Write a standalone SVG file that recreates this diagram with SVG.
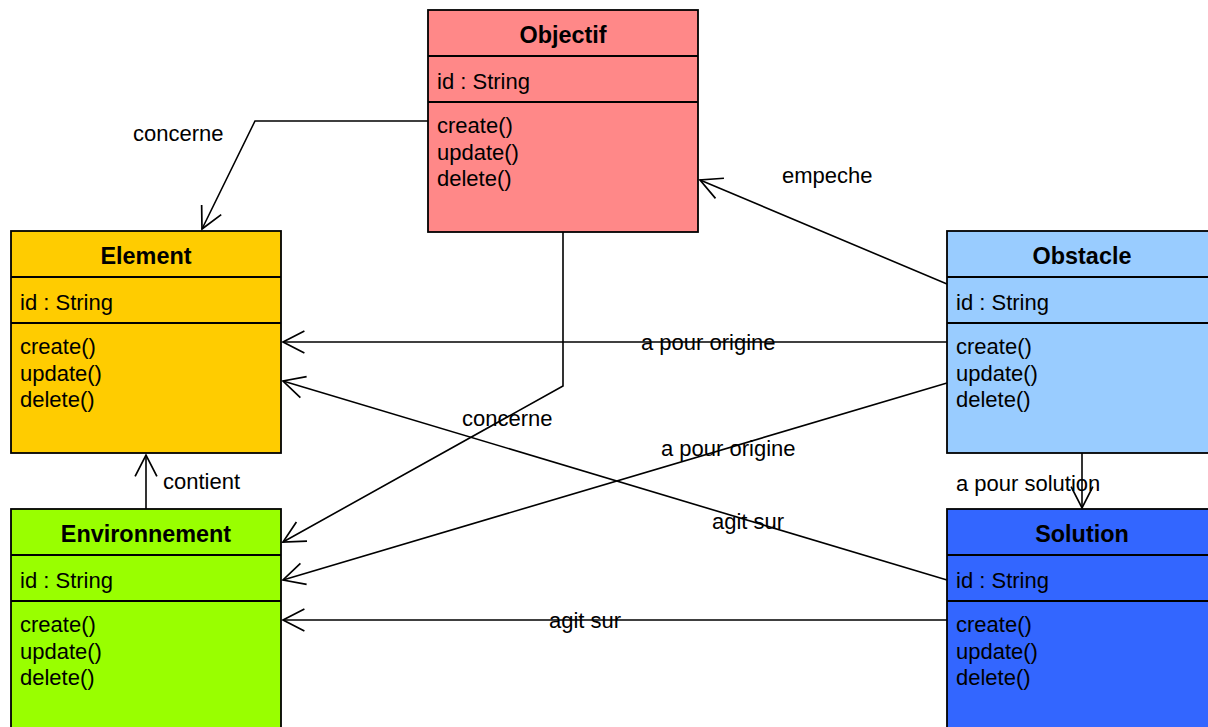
<svg xmlns="http://www.w3.org/2000/svg" width="1208" height="727" viewBox="0 0 1208 727">
<style>
.box{stroke:#000;stroke-width:1.8}
.sep{stroke:#000;stroke-width:1.8}
.title{font-family:"Liberation Sans",Arial,sans-serif;font-size:23.4px;font-weight:bold;text-anchor:middle;fill:#000}
.txt{font-family:"Liberation Sans",Arial,sans-serif;font-size:22px;fill:#000}
.conn{fill:none;stroke:#000;stroke-width:1.6;marker-end:url(#arr)}
</style>
<defs>
<marker id="arr" markerUnits="userSpaceOnUse" markerWidth="30" markerHeight="30" viewBox="-26 -15 30 30" refX="0" refY="0" orient="auto" overflow="visible">
<path d="M-21.4,-10.9 L0,0 L-21.4,10.9" fill="none" stroke="#000" stroke-width="1.7"/>
</marker>
</defs>
<rect width="1208" height="727" fill="#fff"/>

<g id="connectors">
<polyline class="conn" points="428,121 255,121 202,229"/>
<polyline class="conn" points="947,284 700,180"/>
<polyline class="conn" points="947,342 283,342"/>
<polyline class="conn" points="947,580 283,381"/>
<polyline class="conn" points="563,232 563,386 283,542"/>
<polyline class="conn" points="947,383 283,580"/>
<polyline class="conn" points="947,620 283,620"/>
<polyline class="conn" points="146,509 146,455"/>
<polyline class="conn" points="1082,453 1082,508"/>
<text class="txt" x="133" y="141">concerne</text>
<text class="txt" x="782" y="183">empeche</text>
<text class="txt" x="641" y="350">a pour origine</text>
<text class="txt" x="462" y="426">concerne</text>
<text class="txt" x="661" y="456">a pour origine</text>
<text class="txt" x="712" y="529">agit sur</text>
<text class="txt" x="549" y="628">agit sur</text>
<text class="txt" x="163" y="489">contient</text>
<text class="txt" x="956" y="491">a pour solution</text>
</g>

<g id="objectif">
<rect class="box" x="428" y="10" width="270" height="222" fill="#FF8888"/>
<line class="sep" x1="428" y1="56" x2="698" y2="56"/>
<line class="sep" x1="428" y1="102" x2="698" y2="102"/>
<text class="title" x="563" y="43">Objectif</text>
<text class="txt" x="437" y="89">id : String</text>
<text class="txt" x="437" y="133">create()</text>
<text class="txt" x="437" y="159.5">update()</text>
<text class="txt" x="437" y="186">delete()</text>
</g>

<g id="element">
<rect class="box" x="11" y="231" width="270" height="222" fill="#FFCC00"/>
<line class="sep" x1="11" y1="277" x2="281" y2="277"/>
<line class="sep" x1="11" y1="323" x2="281" y2="323"/>
<text class="title" x="146" y="264">Element</text>
<text class="txt" x="20" y="310">id : String</text>
<text class="txt" x="20" y="354">create()</text>
<text class="txt" x="20" y="380.5">update()</text>
<text class="txt" x="20" y="407">delete()</text>
</g>

<g id="obstacle">
<rect class="box" x="947" y="231" width="270" height="222" fill="#99CCFF"/>
<line class="sep" x1="947" y1="277" x2="1217" y2="277"/>
<line class="sep" x1="947" y1="323" x2="1217" y2="323"/>
<text class="title" x="1082" y="264">Obstacle</text>
<text class="txt" x="956" y="310">id : String</text>
<text class="txt" x="956" y="354">create()</text>
<text class="txt" x="956" y="380.5">update()</text>
<text class="txt" x="956" y="407">delete()</text>
</g>

<g id="environnement">
<rect class="box" x="11" y="509" width="270" height="222" fill="#99FF00"/>
<line class="sep" x1="11" y1="555" x2="281" y2="555"/>
<line class="sep" x1="11" y1="601" x2="281" y2="601"/>
<text class="title" x="146" y="542">Environnement</text>
<text class="txt" x="20" y="588">id : String</text>
<text class="txt" x="20" y="632">create()</text>
<text class="txt" x="20" y="658.5">update()</text>
<text class="txt" x="20" y="685">delete()</text>
</g>

<g id="solution">
<rect class="box" x="947" y="509" width="270" height="222" fill="#3366FF"/>
<line class="sep" x1="947" y1="555" x2="1217" y2="555"/>
<line class="sep" x1="947" y1="601" x2="1217" y2="601"/>
<text class="title" x="1082" y="542">Solution</text>
<text class="txt" x="956" y="588">id : String</text>
<text class="txt" x="956" y="632">create()</text>
<text class="txt" x="956" y="658.5">update()</text>
<text class="txt" x="956" y="685">delete()</text>
</g>
</svg>
